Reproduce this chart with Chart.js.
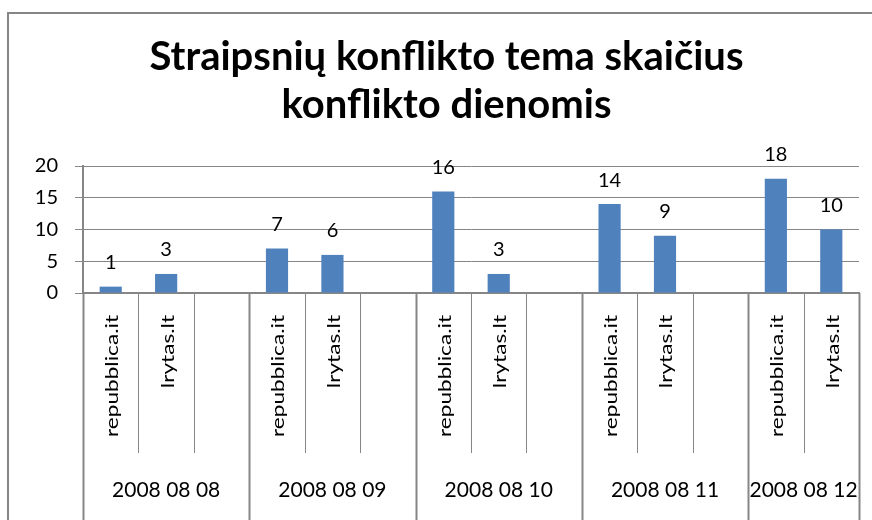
<!DOCTYPE html>
<html>
<head>
<meta charset="utf-8">
<script src="https://cdn.jsdelivr.net/npm/chart.js@4.4.0/dist/chart.umd.min.js"></script>
<style>
  html, body { margin: 0; padding: 0; background: #fff; }
  #wrap { width: 872px; height: 520px; }
</style>
</head>
<body>
<div id="wrap"><canvas id="chart"></canvas></div>
<script>
// duomenys
const dates = ['2008 08 08', '2008 08 09', '2008 08 10', '2008 08 11', '2008 08 12'];
const sites = ['repubblica.it', 'lrytas.lt'];
const repubblicaCounts = [1, 7, 16, 14, 18];
const lrytasCounts = [3, 6, 3, 9, 10];
const titleLines = ['Straipsnių konflikto tema skaičius', 'konflikto dienomis'];

const gray = '#868686';
const barColor = '#4F81BD';
const fontName = 'Lato, "Open Sans", sans-serif';

// Excel style: each day has 3 slots (two sites + blank), last day has no blank
const slotLabels = [];
const slotValues = [];
const groupStart = [];
dates.forEach((d, i) => {
  groupStart.push(slotLabels.length);
  slotLabels.push(sites[0], sites[1]);
  slotValues.push(repubblicaCounts[i], lrytasCounts[i]);
  if (i < dates.length - 1) {
    slotLabels.push('');
    slotValues.push(null);
  }
});

const excelAxis = {
  id: 'excelAxis',
  beforeDraw(chart) {
    const ctx = chart.ctx;
    ctx.save();
    ctx.strokeStyle = gray;
    ctx.lineWidth = 2;
    ctx.strokeRect(8, 13, 900, 600);
    ctx.restore();
  },
  afterDatasetsDraw(chart) {
    const ctx = chart.ctx;
    const x = chart.scales.x;
    const area = chart.chartArea;
    const n = slotLabels.length;
    const slotW = x.width / n;
    ctx.save();

    // value labels
    const meta = chart.getDatasetMeta(0);
    ctx.fillStyle = '#000';
    ctx.font = '20px ' + fontName;
    ctx.textAlign = 'center';
    ctx.textBaseline = 'middle';
    meta.data.forEach((bar, i) => {
      if (slotValues[i] == null) return;
      ctx.fillText(String(slotValues[i]), bar.x, bar.y - 24);
    });

    // separators
    ctx.strokeStyle = gray;
    for (let k = 0; k <= n; k++) {
      const px = Math.round(x.getPixelForValue(k) - slotW / 2) + 0.5;
      const isGroup = k === 0 || k === n || groupStart.includes(k);
      ctx.lineWidth = isGroup ? 2 : 1;
      ctx.beginPath();
      ctx.moveTo(px, area.bottom);
      ctx.lineTo(px, isGroup ? 520 : 453);
      ctx.stroke();
    }

    // site labels (rotated)
    ctx.font = '17px ' + fontName;
    ctx.textAlign = 'right';
    ctx.textBaseline = 'middle';
    slotLabels.forEach((lab, i) => {
      if (!lab) return;
      ctx.save();
      ctx.translate(x.getPixelForValue(i) + 2, 315);
      ctx.rotate(-Math.PI / 2);
      ctx.scale(1.33, 1);
      ctx.fillText(lab, 0, 0);
      ctx.restore();
    });

    // date labels
    ctx.font = '21px ' + fontName;
    ctx.textAlign = 'center';
    dates.forEach((d, i) => {
      const first = groupStart[i];
      const last = i < dates.length - 1 ? groupStart[i + 1] - 1 : n - 1;
      const left = x.getPixelForValue(first) - slotW / 2;
      const right = x.getPixelForValue(last) + slotW / 2;
      ctx.fillText(d, (left + right) / 2, 490);
    });
    ctx.restore();
  }
};

new Chart(document.getElementById('chart'), {
  type: 'bar',
  data: {
    labels: slotLabels,
    datasets: [{
      data: slotValues,
      backgroundColor: barColor,
      barPercentage: 0.4,
      categoryPercentage: 1.0
    }]
  },
  options: {
    responsive: true,
    maintainAspectRatio: false,
    animation: false,
    layout: { padding: { left: 34, right: 13, top: 0, bottom: 0 } },
    plugins: {
      legend: { display: false },
      tooltip: { enabled: false },
      title: {
        display: true,
        text: titleLines,
        color: '#000',
        font: { family: fontName, size: 40, weight: 'bold', lineHeight: '48px' },
        padding: { top: 33, bottom: 37 }
      }
    },
    scales: {
      x: {
        ticks: { display: false },
        grid: { display: false },
        border: { display: true, color: gray, width: 2 },
        afterFit: (s) => { s.height = 227; }
      },
      y: {
        min: 0,
        max: 20,
        ticks: { stepSize: 5, color: '#000', padding: 17, font: { family: fontName, size: 20 } },
        grid: { color: gray, tickLength: 8, drawTicks: true },
        border: { display: true, color: gray, width: 2 },
        afterFit: (s) => { s.width = 49; }
      }
    }
  },
  plugins: [excelAxis]
});
</script>
</body>
</html>
